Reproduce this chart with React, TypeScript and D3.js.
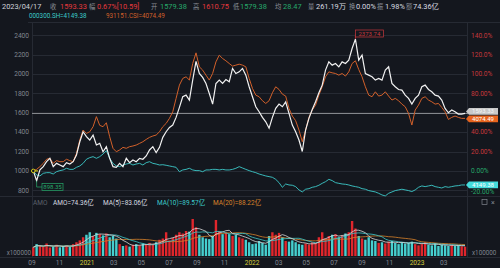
import React from "react";
import * as d3 from "d3";

const W = 500;
const H = 268;

// normalized to left axis (base 1000 = 0%)
const stockSeries = [
  1000, 898, 1010, 1044, 1095, 1130, 1044, 1078, 1061, 1044,
  1085, 1071, 1095, 1164, 1301, 1404, 1353, 1319, 1370, 1267,
  1284, 1198, 1250, 1130, 1044, 1037, 1078, 1044, 1130, 1085,
  1113, 1095, 1130, 1120, 1154, 1216, 1250, 1188, 1243, 1346,
  1404, 1449, 1473, 1552, 1655, 1765, 1782, 1731, 1937, 2130,
  2005, 1964, 1902, 1799, 1689, 1902, 1937, 1902, 1943, 1919,
  2057, 2005, 2022, 2057, 1988, 1868, 1765, 1662, 1610, 1552,
  1507, 1440, 1552, 1645, 1689, 1662, 1713, 1593, 1473, 1404,
  1319, 1200, 1422, 1542, 1634, 1713, 1806, 1885, 2040, 2125,
  2091, 2108, 2074, 2125, 2108, 2143, 2263, 2360, 2143, 2194,
  2005, 1988, 1971, 1937, 1954, 1937, 2040, 2074, 1902, 1868,
  1840, 1834, 1782, 1748, 1689, 1748, 1782, 1868, 1885, 1840,
  1816, 1782, 1772, 1731, 1645, 1600, 1628, 1610, 1586, 1586,
  1593.33,
];

const csiSeries = [
  1000, 1016, 1044, 1078, 1120, 1130, 1078, 1106, 1095, 1095,
  1120, 1106, 1095, 1181, 1319, 1422, 1387, 1404, 1456, 1560,
  1470, 1456, 1497, 1353, 1233, 1198, 1216, 1243, 1233, 1250,
  1257, 1267, 1284, 1301, 1325, 1346, 1360, 1370, 1404, 1456,
  1490, 1542, 1610, 1748, 1885, 1954, 1971, 1937, 2108, 2218,
  2074, 2040, 1988, 1937, 2005, 2125, 2194, 2160, 2136, 2108,
  2081, 2091, 2101, 2091, 2074, 1954, 1851, 1782, 1765, 1724,
  1696, 1724, 1806, 1868, 1840, 1792, 1772, 1645, 1566, 1518,
  1422, 1301, 1422, 1552, 1628, 1679, 1782, 1868, 1971, 2022,
  2012, 2005, 1988, 2005, 1978, 2022, 2108, 2136, 2046, 1971,
  1868, 1782, 1765, 1816, 1772, 1782, 1816, 1772, 1731, 1748,
  1724, 1689, 1662, 1593, 1473, 1628, 1679, 1748, 1765, 1731,
  1713, 1689, 1696, 1655, 1610, 1531, 1552, 1566, 1552, 1542,
  1542,
];

const hs300Series = [
  1000, 958, 948, 975, 982, 982, 968, 992, 1003, 1010,
  1027, 1016, 1016, 1037, 1051, 1078, 1120, 1137, 1147, 1130,
  1147, 1174, 1209, 1130, 1078, 1051, 1044, 1061, 1071, 1078,
  1061, 1071, 1078, 1061, 1085, 1095, 1078, 1071, 1061, 1064,
  1058, 1051, 1044, 1037, 992, 1010, 1016, 1027, 1010, 1003,
  1003, 992, 1010, 1010, 1016, 1016, 1010, 1016, 1010, 1010,
  1016, 1027, 1044, 1030, 1016, 1003, 992, 982, 968, 958,
  948, 941, 934, 913, 879, 831, 865, 855, 852, 838,
  804, 783, 811, 817, 831, 838, 852, 872, 889, 913,
  900, 879, 872, 865, 862, 855, 845, 838, 831, 817,
  811, 797, 790, 783, 769, 752, 742, 769, 783, 797,
  804, 811, 804, 797, 787, 804, 831, 845, 838, 845,
  852, 838, 831, 824, 838, 831, 838, 845, 848, 855,
  855,
];

// turnover, 亿
const amoVolume = [
  70, 95, 80, 72, 100, 68, 75, 90, 70, 78, 85, 72, 95,
  110, 125, 150, 170, 190, 160, 185,
  175, 165, 180, 150, 160, 140,
  95, 80, 85, 75, 90,
  95, 85, 100, 90, 105, 95, 110,
  130, 140, 190, 125, 145,
  170, 190, 180, 200, 195,
  296,
  230, 170, 150, 140, 135,
  160, 288, 200, 175,
  190, 175, 160, 170, 150, 140, 130,
  110, 95, 100, 120, 105, 90,
  160, 190, 170, 185,
  150, 120, 115, 125, 110,
  95, 90, 100, 92, 110, 105,
  150, 190, 140,
  160, 170, 175, 150, 165, 180, 190,
  280,
  220,
  160, 140, 130, 150, 125, 120,
  105, 110, 100, 115, 120, 105, 95, 110, 100, 105, 115, 95,
  85, 95, 110, 90, 85, 100, 80, 90, 85, 80, 90, 80, 85, 78, 74.36,
];

const leftTicks = [800, 1000, 1200, 1400, 1600, 1800, 2000, 2200, 2400];
const rightTickLabels = ["-20.00%", "0.00%", "20.00%", "40.00%", "", "80.00%", "100.0%", "120.0%", "140.0%"];
const monthTicks = [
  "2020-09-01", "2020-11-01", "2021-01-01", "2021-03-01", "2021-05-01", "2021-07-01",
  "2021-09-01", "2021-11-01", "2022-01-01", "2022-03-01", "2022-05-01", "2022-07-01",
  "2022-09-01", "2022-11-01", "2023-01-01", "2023-03-01",
];
const monthLabels = ["09", "11", "2021", "03", "05", "07", "09", "11", "2022", "03", "05", "07", "09", "11", "2023", "03"];
const dateRange = ["2020-09-04", "2023-04-17"];

const headerItems = [
  { label: "", value: "2023/04/17", color: "#cfd2d8", lx: 0, vx: 2 },
  { label: "收", value: "1593.33", color: "#e5383d", lx: 50, vx: 60 },
  { label: "幅", value: "0.67%[10.59]", color: "#e5383d", lx: 89, vx: 97 },
  { label: "开", value: "1579.38", color: "#26a86a", lx: 151, vx: 160 },
  { label: "高", value: "1610.75", color: "#e5383d", lx: 193, vx: 202 },
  { label: "低", value: "1579.38", color: "#26a86a", lx: 233, vx: 240 },
  { label: "均", value: "28.47", color: "#26a86a", lx: 275, vx: 283 },
  { label: "量", value: "261.19万", color: "#d8dbe0", lx: 308, vx: 316 },
  { label: "换", value: "0.00%", color: "#d8dbe0", lx: 349, vx: 356 },
  { label: "振", value: "1.98%", color: "#d8dbe0", lx: 377, vx: 385 },
  { label: "额", value: "74.36亿", color: "#d8dbe0", lx: 406, vx: 413 },
];

const BG = "#14171e";
const GRID = "#262a33";
const AXIS_TXT = "#80868f";
const WHITE = "#f2f2f2";
const ORANGE = "#d2602a";
const CYAN = "#3ccaca";
const RED = "#e0262c";
const FONT = "Roboto, 'Noto Sans', 'Noto Sans CJK SC', sans-serif";

function movingAvg(arr: number[], n: number) {
  return arr.map((_, i) => {
    const s = arr.slice(Math.max(0, i - n + 1), i + 1);
    return d3.mean(s) as number;
  });
}

export default function App() {
  const N = stockSeries.length;
  const X0 = 33.3;
  const X1 = 465;
  const x = d3.scaleLinear().domain([0, N - 1]).range([X0, X1]);
  const t = d3.scaleTime().domain(dateRange.map((d) => new Date(d))).range([X0, X1]);
  const y = d3.scaleLinear().domain([800, 2400]).range([190.3, 35.2]);
  const vy = d3.scaleLinear().domain([0, 300]).range([256, 218.5]);

  const line = (data: number[]) =>
    d3.line<number>().x((_, i) => x(i)).y((d) => y(d))(data) as string;
  const vline = (data: number[]) =>
    d3.line<number>().x((_, i) => x(i)).y((d) => vy(d))(data) as string;

  const ma5 = movingAvg(amoVolume, 5);
  const ma10 = movingAvg(amoVolume, 10);
  const ma20 = movingAvg(amoVolume, 20);

  const maxIdx = d3.maxIndex(stockSeries);
  const minIdx = d3.minIndex(stockSeries);
  const last = N - 1;

  const priceBox = (yy: number, fill: string, text: string, txtColor: string) => (
    <g>
      <path d={`M466,${yy} L469,${yy - 3.4} L498,${yy - 3.4} L498,${yy + 3.4} L469,${yy + 3.4} Z`} fill={fill} />
      <text x={483} y={yy + 2.1} fontSize={6} fill={txtColor} textAnchor="middle" fontFamily={FONT}>
        {text}
      </text>
    </g>
  );

  return (
    <svg width={W} height={H} style={{ position: "absolute", left: 0, top: 0, display: "block" }}>
      <rect x={0} y={0} width={W} height={H} fill={BG} />

      {/* header */}
      {headerItems.map((h, i) => (
        <g key={i}>
          {h.label && (
            <text x={h.lx} y={9} fontSize={6.3} fill="#8a8f98" fontFamily={FONT}>
              {h.label}
            </text>
          )}
          <text x={h.vx} y={9} fontSize={7.4} fill={h.color} fontFamily={FONT}>
            {h.value}
          </text>
        </g>
      ))}
      <text x={29} y={17.8} fontSize={6.3} fill={CYAN} fontFamily={FONT}>000300.SH=4149.38</text>
      <text x={106} y={17.8} fontSize={6.3} fill={ORANGE} fontFamily={FONT}>931151.CSI=4074.49</text>

      {/* frame lines */}
      <line x1={28} x2={500} y1={22.5} y2={22.5} stroke={GRID} />
      <line x1={32.5} x2={32.5} y1={22} y2={258} stroke={GRID} />
      <line x1={467.5} x2={467.5} y1={22} y2={258} stroke={GRID} />
      <line x1={0} x2={500} y1={196.5} y2={196.5} stroke={GRID} />
      <line x1={0} x2={500} y1={257.5} y2={257.5} stroke={GRID} />

      {/* grid + axes */}
      {leftTicks.map((v, i) => (
        <g key={v}>
          <line x1={32} x2={468} y1={Math.round(y(v)) + 0.5} y2={Math.round(y(v)) + 0.5} stroke={GRID} />
          <text x={29} y={y(v) + 2.3} fontSize={6.6} fill={AXIS_TXT} textAnchor="end" fontFamily={FONT}>
            {v}
          </text>
          {rightTickLabels[i] && (
            <text
              x={471}
              y={i === 0 ? y(v) + 4 : y(v) + 2.3}
              fontSize={6.6}
              fill={i <= 1 ? "#26a86a" : "#c8383c"}
              fontFamily={FONT}
            >
              {rightTickLabels[i]}
            </text>
          )}
        </g>
      ))}

      {/* current price line */}
      <line x1={32} x2={468} y1={y(stockSeries[last])} y2={y(stockSeries[last])} stroke="#9c9ea3" strokeWidth={0.9} />

      {/* series */}
      <path d={line(hs300Series)} fill="none" stroke={CYAN} strokeWidth={0.9} />
      <path d={line(csiSeries)} fill="none" stroke={ORANGE} strokeWidth={1} />
      <path d={line(stockSeries)} fill="none" stroke={WHITE} strokeWidth={1.2} />

      {/* start marker */}
      <line x1={31} x2={38} y1={y(stockSeries[0])} y2={y(stockSeries[0])} stroke="#e6e01e" strokeWidth={1} />
      <circle cx={x(0)} cy={y(stockSeries[0])} r={1.8} fill={BG} stroke="#e6e01e" strokeWidth={0.9} />

      {/* min label */}
      <line x1={x(minIdx)} y1={y(stockSeries[minIdx])} x2={x(minIdx)} y2={187} stroke="#26a86a" strokeWidth={0.7} />
      <line x1={x(minIdx)} y1={187} x2={42} y2={187} stroke="#26a86a" strokeWidth={0.7} />
      <rect x={42} y={183.5} width={21} height={7} fill={BG} stroke="#26a86a" strokeWidth={0.7} />
      <text x={52.5} y={189.2} fontSize={6} fill="#26a86a" textAnchor="middle" fontFamily={FONT}>898.35</text>

      {/* max label */}
      <line x1={x(maxIdx)} y1={y(stockSeries[maxIdx])} x2={x(maxIdx)} y2={33.5} stroke="#c8383c" strokeWidth={0.7} />
      <rect x={x(maxIdx)} y={30} width={28} height={7} fill={BG} stroke="#c8383c" strokeWidth={0.7} />
      <text x={x(maxIdx) + 14} y={35.6} fontSize={6} fill="#c8383c" textAnchor="middle" fontFamily={FONT}>2373.74</text>

      {/* right price boxes */}
      {priceBox(y(stockSeries[last]) - 2, "#c9c9c9", "1593.33", "#f4f4f4")}
      {priceBox(y(csiSeries[last]) + 0.6, "#e8641e", "4074.49", "#ffffff")}
      {priceBox(y(hs300Series[last]), "#45dcdc", "4149.38", "#ffffff")}

      {/* volume header */}
      <text x={33} y={204.5} fontSize={6.5} fill="#5d626b" fontFamily={FONT}>AMO</text>
      <text x={53} y={204.5} fontSize={6.5} fill="#d8dbe0" fontFamily={FONT}>AMO=74.36亿</text>
      <text x={103} y={204.5} fontSize={6.5} fill="#d8dbe0" fontFamily={FONT}>MA(5)=83.06亿</text>
      <text x={157} y={204.5} fontSize={6.5} fill={CYAN} fontFamily={FONT}>MA(10)=89.57亿</text>
      <text x={213} y={204.5} fontSize={6.5} fill="#d8822a" fontFamily={FONT}>MA(20)=88.22亿</text>
      <rect x={482} y={199.5} width={5} height={5} fill="none" stroke="#80868f" strokeWidth={0.7} />
      <text x={491} y={204.8} fontSize={7} fill="#80868f" fontFamily={FONT}>×</text>

      {/* volume bars */}
      {amoVolume.map((v, i) => {
        const up = i === 0 || stockSeries[i] >= stockSeries[i - 1];
        return (
          <rect
            key={i}
            x={x(i) - 1.2}
            y={vy(v)}
            width={2.4}
            height={vy(0) - vy(v)}
            fill={up ? RED : "#46cfcf"}
          />
        );
      })}
      <path d={vline(ma20)} fill="none" stroke="#d8822a" strokeWidth={0.8} />
      <path d={vline(ma10)} fill="none" stroke={CYAN} strokeWidth={0.8} />
      <path d={vline(ma5)} fill="none" stroke="#d9d9d9" strokeWidth={0.8} />

      <text x={31} y={254.5} fontSize={6.3} fill={AXIS_TXT} textAnchor="end" fontFamily={FONT}>x100000</text>
      <text x={472} y={254.5} fontSize={6.3} fill={AXIS_TXT} fontFamily={FONT}>x100000</text>

      {/* x axis labels */}
      {monthTicks.map((d, i) => (
        <text
          key={d}
          x={t(new Date(d))}
          y={265}
          fontSize={6.6}
          fill={monthLabels[i].length === 4 ? "#d6cc3c" : AXIS_TXT}
          textAnchor="middle"
          fontFamily={FONT}
        >
          {monthLabels[i]}
        </text>
      ))}
    </svg>
  );
}
